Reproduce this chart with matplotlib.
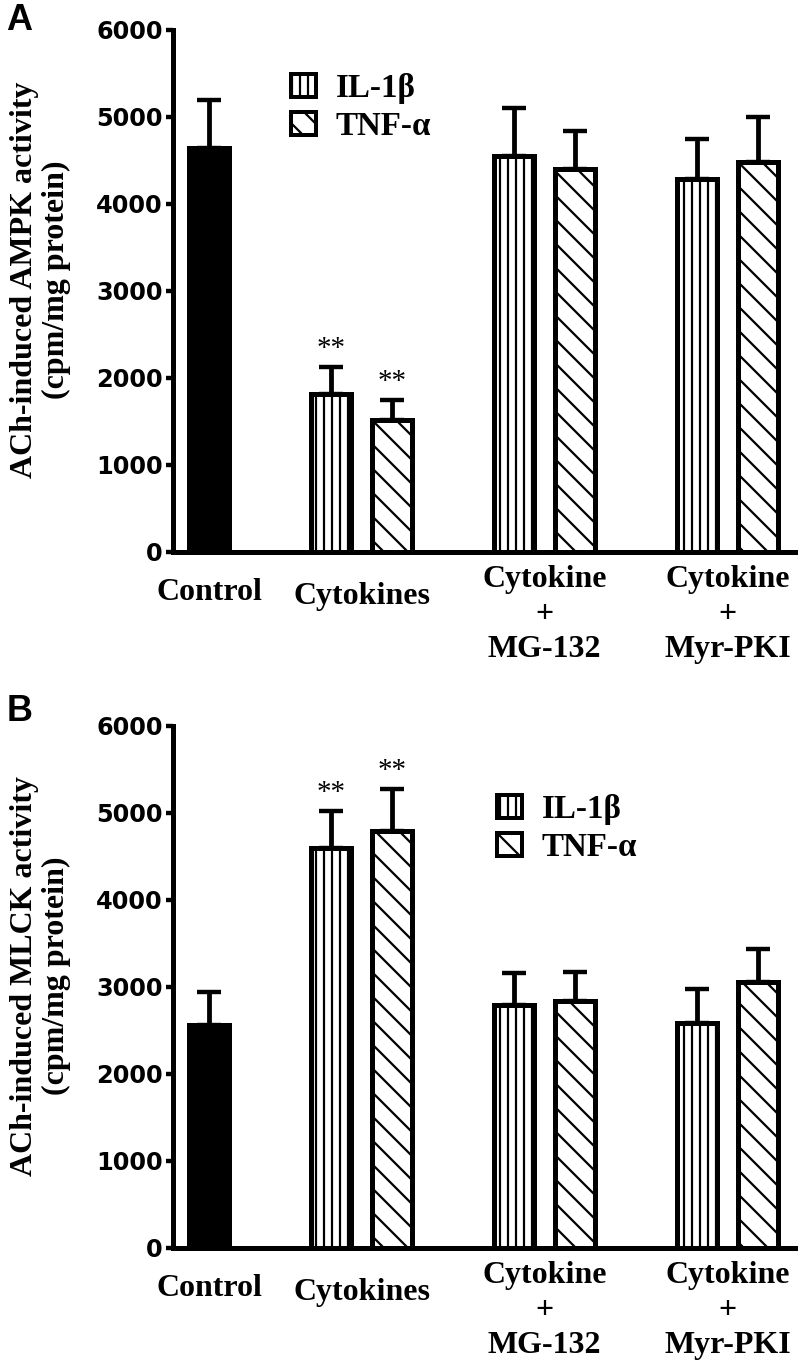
import matplotlib
matplotlib.use("Agg")
import matplotlib.pyplot as plt
import matplotlib.transforms as mtransforms
from matplotlib.patches import Patch
import numpy as np

# categories along the x axis
groups = ["Control", "Cytokines", "Cytokine\n+\nMG-132", "Cytokine\n+\nMyr-PKI"]
series = ["IL-1\u03b2", "TNF-\u03b1"]
yticks = [0, 1000, 2000, 3000, 4000, 5000, 6000]

# panel A: ACh-induced AMPK activity (cpm/mg protein), mean + SEM
ampk_control = 4640
ampk_control_sem = 555
ampk_il1b = [1815, 4550, 4285]
ampk_il1b_sem = [305, 550, 460]
ampk_tnfa = [1510, 4400, 4480]
ampk_tnfa_sem = [235, 440, 520]

# panel B: ACh-induced MLCK activity (cpm/mg protein), mean + SEM
mlck_control = 2560
mlck_control_sem = 375
mlck_il1b = [4590, 2785, 2580]
mlck_il1b_sem = [430, 365, 390]
mlck_tnfa = [4790, 2835, 3055]
mlck_tnfa_sem = [480, 335, 375]

# ** = significant vs control (only the plain cytokine group)
signif = [True, False, False]

SERIF = "Liberation Serif"
TICKFONT = "DejaVu Sans"
DPI = 144

plt.rcParams["hatch.linewidth"] = 1.1
plt.rcParams["hatch.color"] = "black"


def panel(ax, control, control_sem, il, il_sem, tnf, tnf_sem, ylabel,
          letter, leg_xy, ylabel_y, letter_y):
    x_ctrl = 0.6
    centers = np.array([3.1, 6.1, 9.1])
    x_il, x_tnf = centers - 0.5, centers + 0.5
    w = 0.65

    ax.bar([x_ctrl], [control], w, color="black", edgecolor="black",
           lw=2.5, zorder=2)
    ax.bar(x_il, il, w, color="white", edgecolor="black", lw=2.5,
           hatch="|||", zorder=2)
    ax.bar(x_tnf, tnf, w, color="white", edgecolor="black", lw=2.5,
           hatch="\\\\", zorder=2)

    xs = np.r_[x_ctrl, x_il, x_tnf]
    ys = np.r_[control, il, tnf]
    es = np.r_[control_sem, il_sem, tnf_sem]
    ax.errorbar(xs, ys, yerr=[np.zeros_like(es), es], fmt="none",
                ecolor="black", elinewidth=2.4, capsize=6, capthick=2.2,
                zorder=1)

    for i, s in enumerate(signif):
        if not s:
            continue
        for xx, top in ((x_il[i], il[i] + il_sem[i]), (x_tnf[i], tnf[i] + tnf_sem[i])):
            ax.annotate("**", (xx, top), xytext=(0, 9), textcoords="offset points",
                        ha="center", va="center", fontsize=14.5, family=SERIF)

    ax.set_xlim(0, 10.24)
    ax.set_ylim(0, 6000)
    ax.set_yticks(yticks)
    ax.set_yticklabels([str(t) for t in yticks], family=TICKFONT,
                       fontweight="bold", fontsize=12)
    ax.set_xticks([])
    ax.tick_params(axis="y", direction="out", length=3.5, width=2.2, pad=1.5)
    for side in ("top", "right"):
        ax.spines[side].set_visible(False)
    for side in ("left", "bottom"):
        ax.spines[side].set_linewidth(2.5)

    # category labels under the axis
    trans = mtransforms.blended_transform_factory(ax.transData, ax.transAxes)
    label_x = [x_ctrl] + list(centers)
    label_y = [-0.051, -0.058, -0.026, -0.026]
    for lx, ly, g in zip(label_x, label_y, groups):
        ax.text(lx, ly, g, transform=trans, ha="center", va="top",
                fontsize=16, fontweight="bold", family=SERIF, linespacing=1.28)

    handles = [Patch(facecolor="white", edgecolor="black", lw=2, hatch="|||"),
               Patch(facecolor="white", edgecolor="black", lw=2, hatch="\\\\")]
    ax.legend(handles, series, loc="upper left", bbox_to_anchor=leg_xy,
              frameon=False, handlelength=0.75, handleheight=0.7,
              handletextpad=0.6, labelspacing=0.22, borderpad=0,
              borderaxespad=0,
              prop={"family": SERIF, "weight": "bold", "size": 16.5})

    fig = ax.figure
    fig.text(0.0508, ylabel_y, ylabel, rotation=90, ha="center", va="center",
             multialignment="center", fontsize=16, fontweight="bold",
             family=SERIF, linespacing=1.12)
    fig.text(0.024, letter_y, letter, ha="center", va="center", fontsize=18,
             fontweight="bold", family="Liberation Sans")


fig = plt.figure(figsize=(798 / DPI, 1370 / DPI), dpi=DPI)
ax_a = fig.add_axes([0.2162, 0.5974, 0.7826, 0.3810])
ax_b = fig.add_axes([0.2162, 0.0894, 0.7826, 0.3810])

panel(ax_a, ampk_control, ampk_control_sem, ampk_il1b, ampk_il1b_sem,
      ampk_tnfa, ampk_tnfa_sem,
      "ACh-induced AMPK activity\n(cpm/mg protein)", "A",
      (0.19, 0.917), 0.7956, 0.9854)
panel(ax_b, mlck_control, mlck_control_sem, mlck_il1b, mlck_il1b_sem,
      mlck_tnfa, mlck_tnfa_sem,
      "ACh-induced MLCK activity\n(cpm/mg protein)", "B",
      (0.52, 0.869), 0.2876, 0.481)

fig.savefig("out.png", dpi=DPI)
